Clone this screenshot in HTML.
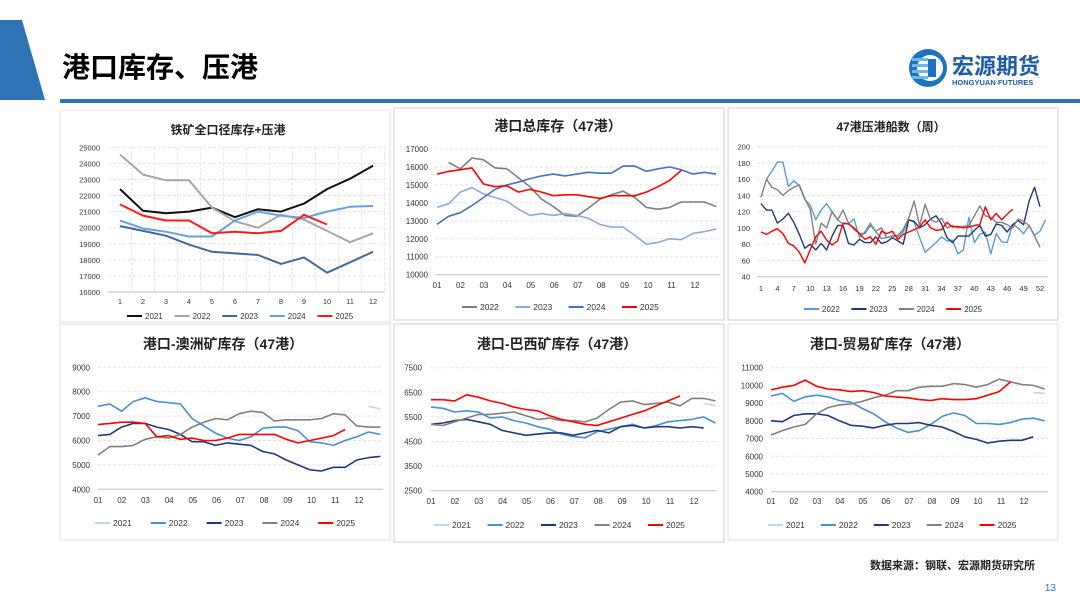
<!DOCTYPE html>
<html><head><meta charset="utf-8">
<style>
html,body{margin:0;padding:0;background:#fff;}
body{width:1080px;height:605px;overflow:hidden;position:relative;font-family:"Liberation Sans","Noto Sans CJK SC",sans-serif;}
svg{position:absolute;left:0;top:0;}
</style></head>
<body>
<svg id="s" width="1080" height="605" viewBox="0 0 1080 605" xmlns="http://www.w3.org/2000/svg">
  <polygon points="0,20 22,20 45,100 0,100" fill="#2e74b5"/>
  <text x="62" y="77" font-size="28" font-weight="bold" fill="#000" font-family="'Liberation Sans','Noto Sans CJK SC',sans-serif">港口库存、压港</text>
  <rect x="60" y="99" width="1020" height="4" fill="#2e74b5"/>
  <g>
    <circle cx="928" cy="68" r="19" fill="#1e73be"/>
    <circle cx="930" cy="68" r="13" fill="#fff"/>
    <rect x="912" y="58" width="16" height="3" fill="#6fb7e8"/><rect x="912" y="64" width="16" height="3" fill="#6fb7e8"/><rect x="912" y="70" width="16" height="3" fill="#6fb7e8"/><rect x="912" y="76" width="16" height="3" fill="#6fb7e8"/>
    <rect x="928" y="59" width="8" height="18" fill="#1e73be"/>
    <text x="952" y="74" font-size="22" font-weight="bold" fill="#1e5ca8" font-family="'Liberation Sans','Noto Sans CJK SC',sans-serif">宏源期货</text>
    <text x="952" y="85" font-size="7.5" font-weight="bold" fill="#1e5ca8">HONGYUAN FUTURES</text>
  </g>
  <text x="1035" y="569" text-anchor="end" font-size="11" font-weight="bold" fill="#222" font-family="'Liberation Sans','Noto Sans CJK SC',sans-serif">数据来源：钢联、宏源期货研究所</text>
  <text x="1056" y="591" text-anchor="end" font-size="10" fill="#2e74b5">13</text>
  <rect x="60" y="110" width="330" height="212" fill="none" stroke="#e2e2e2"/>
  <rect x="394" y="108" width="330" height="212" fill="none" stroke="#d0d0d0"/>
  <rect x="728" y="108" width="330" height="212" fill="none" stroke="#d0d0d0"/>
  <rect x="60" y="324" width="330" height="216" fill="none" stroke="#e2e2e2"/>
  <rect x="394" y="324" width="330" height="218" fill="none" stroke="#d0d0d0"/>
  <rect x="728" y="324" width="330" height="216" fill="none" stroke="#e2e2e2"/>
</svg>
<script>
// ---------- chart 1 : monthly full-port inventory ----------
const c1Months = [1,2,3,4,5,6,7,8,9,10,11,12];
const c1YTicks = [16000,17000,18000,19000,20000,21000,22000,23000,24000,25000];
const c1Years = ['2021','2022','2023','2024','2025'];
const c1_2021 = [22400,21050,20900,21000,21250,20650,21150,21000,21500,22400,23050,23850];
const c1_2022 = [24550,23300,22950,22950,21250,20400,20000,20800,20500,19800,19100,19650];
const c1_2023 = [20100,19800,19500,18950,18500,18400,18300,17750,18150,17200,17850,18500];
const c1_2024 = [20450,19950,19750,19450,19450,20450,21000,20750,20600,21000,21300,21350];
const c1_2025 = [21450,20750,20450,20450,19650,19750,19650,19800,20800,20200];

// ---------- chart 2 : 47-port total inventory (semi-monthly samples) ----------
const monthLabels = ['01','02','03','04','05','06','07','08','09','10','11','12'];
const c2YTicks = [10000,11000,12000,13000,14000,15000,16000,17000];
const c2Years = ['2022','2023','2024','2025'];
const c2_2022 = [null,16250,15900,16500,16400,15950,15900,15400,14900,14200,13800,13300,13250,13700,14200,14450,14650,14300,13750,13650,13750,14050,14050,14050,13800];
const c2_2023 = [13750,13950,14600,14850,14500,14300,14100,13650,13300,13400,13300,13400,13300,13150,12800,12650,12650,12200,11700,11800,12000,11950,12300,12400,12550];
const c2_2024 = [12800,13250,13450,13850,14300,14750,15000,15150,15350,15500,15600,15500,15600,15700,15650,15650,16050,16050,15750,15900,16000,15850,15600,15700,15600];
const c2_2025 = [15600,15750,15850,15950,15050,14900,14950,14600,14750,14600,14400,14450,14450,14350,14250,14400,14400,14400,14600,14900,15250,15800];

// ---------- chart 3 : 47-port waiting vessels (weekly) ----------
const c3Weeks = [1,4,7,10,13,16,19,22,25,28,31,34,37,40,43,46,49,52];
const c3YTicks = [40,60,80,100,120,140,160,180,200];
const c3Years = ['2022','2023','2024','2025'];
const c3_2022 = [null,160,170,181,181,151,158,152,135,128,110,122,130,120,110,105,105,111,88,95,106,95,87,88,90,89,95,110,107,88,70,76,82,89,84,85,68,73,113,82,92,95,68,93,83,82,104,100,93,103,91,96,110];
const c3_2023 = [130,122,122,106,111,118,107,92,75,80,73,81,73,90,103,103,81,79,86,82,82,89,81,83,88,84,80,110,108,100,104,111,115,105,88,82,90,90,90,97,103,90,92,105,103,95,104,109,104,133,150,126];
const c3_2024 = [138,160,150,147,140,146,150,153,136,123,80,106,100,120,110,122,106,98,93,93,103,96,100,88,90,91,98,112,133,103,129,110,107,112,100,103,100,102,103,115,127,115,113,107,107,104,100,111,108,103,90,76];
const c3_2025 = [95,92,96,99,93,81,78,70,57,73,89,96,85,79,84,106,105,100,93,86,89,80,96,93,96,86,92,95,98,101,110,100,97,98,107,101,102,100,101,103,104,126,110,118,110,117,123];

// ---------- chart 4 : Australian ore ----------
const c4YTicks = [4000,5000,6000,7000,8000,9000];
const c4Years = ['2021','2022','2023','2024','2025'];
const c4_2021 = [null,null,null,null,null,null,null,null,null,null,null,null,null,null,null,null,null,null,null,null,null,null,null,7400,7300];
const c4_2022 = [7400,7500,7200,7600,7750,7600,7550,7500,6900,6600,6300,6100,6000,6150,6500,6550,6550,6400,5950,5900,5800,6000,6150,6350,6250];
const c4_2023 = [6200,6250,6550,6700,6700,6550,6450,6250,5950,5950,5800,5900,5850,5800,5550,5450,5200,5000,4800,4750,4900,4900,5200,5300,5350];
const c4_2024 = [5400,5750,5750,5800,6050,6150,6100,6250,6550,6750,6900,6850,7100,7200,7150,6800,6850,6850,6850,6900,7100,7050,6600,6550,6550];
const c4_2025 = [6650,6700,6750,6750,6700,6150,6200,6050,6100,6000,6000,6100,6250,6250,6250,6250,6050,5900,6000,6100,6200,6450];

// ---------- chart 5 : Brazilian ore ----------
const c5YTicks = [2500,3500,4500,5500,6500,7500];
const c5Years = ['2021','2022','2023','2024','2025'];
const c5_2021 = [null,null,null,null,null,null,null,null,null,null,null,null,null,null,null,null,null,null,null,null,null,null,null,6050,5950];
const c5_2022 = [5900,5850,5700,5750,5700,5450,5500,5350,5250,5100,5000,4800,4700,4650,4900,5000,5100,5200,5050,5150,5300,5350,5400,5500,5250];
const c5_2023 = [5200,5250,5350,5400,5300,5200,4950,4850,4750,4800,4850,4850,4750,4850,4950,4850,5100,5150,5050,5100,5100,5050,5100,5050];
const c5_2024 = [5200,5150,5300,5450,5600,5600,5650,5700,5550,5400,5450,5350,5350,5300,5450,5800,6100,6150,6000,6050,6100,5950,6250,6250,6150];
const c5_2025 = [6200,6200,6150,6400,6300,6150,6050,5900,5800,5750,5550,5400,5300,5200,5150,5300,5450,5600,5750,5950,6150,6350];

// ---------- chart 6 : trade ore ----------
const c6YTicks = [4000,5000,6000,7000,8000,9000,10000,11000];
const c6Years = ['2021','2022','2023','2024','2025'];
const c6_2021 = [null,null,null,null,null,null,null,null,null,null,null,null,null,null,null,null,null,null,null,null,null,null,null,9600,9550];
const c6_2022 = [9400,9550,9100,9350,9450,9350,9150,9050,8700,8400,7950,7600,7350,7450,7800,8250,8450,8300,7850,7850,7800,7900,8100,8150,8000];
const c6_2023 = [8000,7950,8300,8400,8400,8300,8000,7750,7700,7600,7750,7850,7850,7900,7750,7650,7400,7100,6950,6750,6850,6900,6900,7100];
const c6_2024 = [7200,7450,7650,7800,8400,8750,8900,8950,9100,9300,9450,9700,9700,9900,9950,9950,10100,10050,9900,10050,10350,10200,10050,10000,9800];
const c6_2025 = [9750,9900,10000,10300,9950,9800,9750,9650,9700,9600,9400,9350,9300,9200,9150,9250,9200,9200,9250,9450,9650,10200];

const svg = document.getElementById('s');
const NS = 'http://www.w3.org/2000/svg';
const FONT = "'Liberation Sans','Noto Sans CJK SC',sans-serif";
function mk(tag, attrs, parent){ const e=document.createElementNS(NS,tag); for(const k in attrs) e.setAttribute(k,attrs[k]); (parent||svg).appendChild(e); return e; }
const SEMI = 11.9/24;

function drawChart(cfg){
  const g = mk('g',{});
  
  
  const xS = v => cfg.px0 + (v-cfg.x0)/(cfg.x1-cfg.x0)*(cfg.px1-cfg.px0);
  const yS = v => cfg.py0 + (v-cfg.y0)/(cfg.y1-cfg.y0)*(cfg.py1-cfg.py0);
  const t = mk('text',{x:cfg.titleX,y:cfg.titleY,'text-anchor':'middle','font-size':cfg.titleSize||14,'font-weight':'bold',fill:'#222','font-family':FONT},g);
  t.textContent = cfg.title;
  
  
  cfg.yTicks.forEach((v,i)=>{
    const y = yS(v);
    const ln = mk('line',{x1:cfg.gx0,x2:cfg.gx1,y1:y,y2:y,stroke: i===0?'#bfbfbf':'#e3e3e3','stroke-width':1,'stroke-dasharray': i===0?'':'3,2'},g);
    
    
    const tx = mk('text',{x:cfg.ylabX,y:y+3,'text-anchor':'end','font-size':cfg.tickSize||8,fill:'#333','font-family':FONT},g);
    tx.textContent = v;
    
    
  });
  cfg.xTicks.forEach((v,i)=>{
    const x = xS(v);
    if(cfg.vgrid){
      const vl = mk('line',{x1:x+ (cfg.vgridOff||0),x2:x+(cfg.vgridOff||0),y1:yS(cfg.y1),y2:yS(cfg.y0),stroke:'#e6e6e6','stroke-dasharray':'3,2'},g);
      
      
    }
    const tx = mk('text',{x:x,y:cfg.xlabY,'text-anchor':'middle','font-size':cfg.tickSize||8,fill:'#333','font-family':FONT},g);
    tx.textContent = cfg.xLabels[i];
    
    
  });
  cfg.series.forEach(s=>{
    let d='', pen=false;
    s.values.forEach((v,i)=>{
      if(v===null){pen=false;return;}
      const xv = cfg.xOf(i);
      d += (pen?'L':'M') + xS(xv).toFixed(1)+','+yS(v).toFixed(1);
      pen=true;
    });
    const p = mk('path',{d:d,fill:'none',stroke:s.color,'stroke-width':s.w||1.6,'stroke-linejoin':'round'},g);
    
    
  });
  cfg.series.forEach((s,i)=>{
    const lx = cfg.legX + i*cfg.legStep;
    const l = mk('line',{x1:lx,x2:lx+15,y1:cfg.legY,y2:cfg.legY,stroke:s.color,'stroke-width':2},g);
    
    
    const tx = mk('text',{x:lx+18,y:cfg.legY+3,'font-size':cfg.legSize||8.5,fill:'#333','font-family':FONT},g);
    tx.textContent = s.label;
    
    
  });
}

drawChart({name:'chart-iron-ore-total-inventory',title:'铁矿全口径库存+压港',titleX:228,titleY:134,titleSize:12,
  x0:1,x1:12,px0:120,px1:373,y0:16000,y1:25000,py0:292,py1:147.3,gx0:108,gx1:385,ylabX:100,xlabY:304,
  yTicks:c1YTicks,xTicks:c1Months,xLabels:c1Months,vgrid:true,vgridOff:11.5,xOf:i=>c1Months[i],tickSize:7.5,
  legX:127,legStep:47.6,legY:316,legSize:8,
  series:[{label:c1Years[0],values:c1_2021,color:'#111111',w:2},{label:c1Years[1],values:c1_2022,color:'#a6a6a6',w:2},
    {label:c1Years[2],values:c1_2023,color:'#44689e',w:2},{label:c1Years[3],values:c1_2024,color:'#6aa2dc',w:2},{label:c1Years[4],values:c1_2025,color:'#ff1a1a',w:2}]});

drawChart({name:'chart-47-port-total-inventory',title:'港口总库存（47港）',titleX:558,titleY:131,
  x0:1,x1:12,px0:437,px1:695,y0:10000,y1:17000,py0:274.7,py1:149,gx0:435,gx1:720,ylabX:428,xlabY:288,
  yTicks:c2YTicks,xTicks:c1Months,xLabels:monthLabels,xOf:i=>1+i*SEMI,
  legX:462,legStep:53.3,legY:307,
  series:[{label:c2Years[0],values:c2_2022,color:'#7f7f7f'},{label:c2Years[1],values:c2_2023,color:'#8eaadb'},
    {label:c2Years[2],values:c2_2024,color:'#4472c4'},{label:c2Years[3],values:c2_2025,color:'#ff0000'}]});

drawChart({name:'chart-47-port-waiting-vessels',title:'47港压港船数（周）',titleX:891,titleY:131,titleSize:12,
  x0:1,x1:52,px0:761,px1:1040,y0:40,y1:200,py0:276.7,py1:146.7,gx0:757,gx1:1048,ylabX:750,xlabY:291,
  yTicks:c3YTicks,xTicks:c3Weeks,xLabels:c3Weeks,xOf:i=>i+1,tickSize:7.5,
  legX:804,legStep:47.4,legY:309,legSize:8,
  series:[{label:c3Years[0],values:c3_2022,color:'#5b9bd5',w:1.4},{label:c3Years[1],values:c3_2023,color:'#1f3a6e',w:1.4},
    {label:c3Years[2],values:c3_2024,color:'#808080',w:1.4},{label:c3Years[3],values:c3_2025,color:'#ff0000',w:1.4}]});

drawChart({name:'chart-australian-ore-inventory',title:'港口-澳洲矿库存（47港）',titleX:223,titleY:349,
  x0:1,x1:12,px0:98,px1:359,y0:4000,y1:9000,py0:489.3,py1:367.3,gx0:98,gx1:383,ylabX:90,xlabY:503,
  yTicks:c4YTicks,xTicks:c1Months,xLabels:monthLabels,xOf:i=>1+i*SEMI,
  legX:95,legStep:55.8,legY:523,
  series:[{label:c4Years[0],values:c4_2021,color:'#bdd7ee'},{label:c4Years[1],values:c4_2022,color:'#4a8fd4'},
    {label:c4Years[2],values:c4_2023,color:'#1f3a7a'},{label:c4Years[3],values:c4_2024,color:'#808080'},{label:c4Years[4],values:c4_2025,color:'#ff0000'}]});

drawChart({name:'chart-brazilian-ore-inventory',title:'港口-巴西矿库存（47港）',titleX:557,titleY:349,
  x0:1,x1:12,px0:431,px1:694,y0:2500,y1:7500,py0:490.7,py1:367.7,gx0:431,gx1:717,ylabX:422,xlabY:504,
  yTicks:c5YTicks,xTicks:c1Months,xLabels:monthLabels,xOf:i=>1+i*SEMI,
  legX:434,legStep:53.5,legY:525,
  series:[{label:c5Years[0],values:c5_2021,color:'#bdd7ee'},{label:c5Years[1],values:c5_2022,color:'#4a8fd4'},
    {label:c5Years[2],values:c5_2023,color:'#1f3a7a'},{label:c5Years[3],values:c5_2024,color:'#808080'},{label:c5Years[4],values:c5_2025,color:'#ff0000'}]});

drawChart({name:'chart-trade-ore-inventory',title:'港口-贸易矿库存（47港）',titleX:890,titleY:349,
  x0:1,x1:12,px0:771,px1:1024,y0:4000,y1:11000,py0:491.7,py1:367.7,gx0:771,gx1:1048,ylabX:763,xlabY:504,
  yTicks:c6YTicks,xTicks:c1Months,xLabels:monthLabels,xOf:i=>1+i*SEMI,
  legX:768,legStep:52.9,legY:525,
  series:[{label:c6Years[0],values:c6_2021,color:'#bdd7ee'},{label:c6Years[1],values:c6_2022,color:'#4a8fd4'},
    {label:c6Years[2],values:c6_2023,color:'#1f3a7a'},{label:c6Years[3],values:c6_2024,color:'#808080'},{label:c6Years[4],values:c6_2025,color:'#ff0000'}]});
</script>
</body></html>
